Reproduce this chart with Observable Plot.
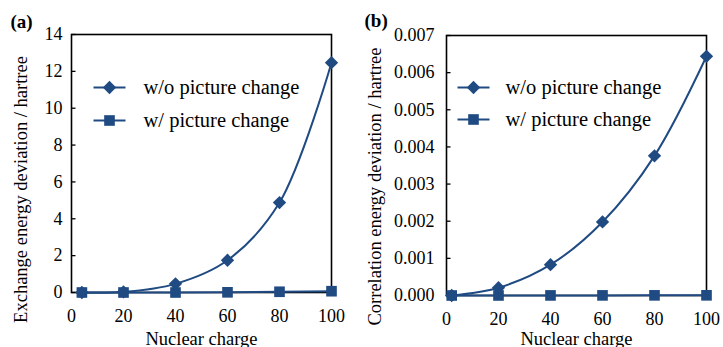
<!DOCTYPE html>
<html lang="en">
<head>
<meta charset="utf-8">
<script src="https://cdn.jsdelivr.net/npm/d3@7"></script>
<script src="https://cdn.jsdelivr.net/npm/@observablehq/plot@0.6"></script>
<style>
  html, body { margin: 0; padding: 0; background: #fff; }
  #wrap { display: flex; width: 723px; height: 347px; overflow: hidden; }
  svg { overflow: visible; }
</style>
</head>
<body>
<div id="wrap"></div>
<script>
// ---- data ----
const seriesNames = ["w/o picture change", "w/ picture change"];
const panelLabels = ["(a)", "(b)"];
const xLabel = "Nuclear charge";
const yLabelA = "Exchange energy deviation / hartree";
const yLabelB = "Correlation energy deviation / hartree";

const zA = [4, 20, 40, 60, 80, 100];
const exchWithout = [0.0, 0.03, 0.47, 1.75, 4.88, 12.47];
const exchWith = [0.0, 0.0, 0.0, 0.01, 0.04, 0.07];

const zB = [2, 20, 40, 60, 80, 100];
const corrWithout = [0.0, 0.00021, 0.00083, 0.00198, 0.00376, 0.00644];
const corrWith = [0.0, 0.000001, 0.000002, 0.000003, 0.000004, 0.000005];

const xTicks = [0, 20, 40, 60, 80, 100];
const yTicksA = [0, 2, 4, 6, 8, 10, 12, 14];
const yTicksB = [0, 0.001, 0.002, 0.003, 0.004, 0.005, 0.006, 0.007];

// ---- style ----
const blue = "#1f4a82";
const font = "'Liberation Serif', 'Times New Roman', serif";
const legendLine = { draw(ctx) { ctx.moveTo(-16, 0); ctx.lineTo(16, 0); } };
const inTick = { draw(ctx) { ctx.moveTo(0, 0); ctx.lineTo(4, 0); } };

function rows(z, v) { return z.map((x, i) => ({x, y: v[i]})); }

function panel(cfg) {
  const dWo = rows(cfg.z, cfg.wo);
  const dW = rows(cfg.z, cfg.w);
  const T = { fill: "black" };
  return Plot.plot({
    width: cfg.width, height: 347,
    marginLeft: cfg.ml, marginRight: cfg.mr, marginTop: cfg.mt, marginBottom: cfg.mb,
    style: { fontFamily: font, fontSize: "18px", color: "black", background: "white" },
    x: { domain: [0, 100] },
    y: { domain: cfg.ydomain },
    marks: [
      Plot.axisX(xTicks, { tickSize: 0, tickPadding: 17, fontSize: 18, label: null }),
      Plot.axisY(cfg.yticks, { tickSize: 0, tickPadding: cfg.tp, fontSize: 18, label: null, tickFormat: cfg.fmt }),
      Plot.dot(cfg.yticks, { y: d => d, frameAnchor: "left", symbol: inTick, stroke: "black", strokeWidth: 1.3, r: 3 }),
      Plot.frame({ stroke: "black", strokeWidth: 1.6 }),
      Plot.line(dW, { x: "x", y: "y", stroke: blue, strokeWidth: 2 }),
      Plot.line(dWo, { x: "x", y: "y", stroke: blue, strokeWidth: 2, curve: "catmull-rom" }),
      Plot.dot(dW, { x: "x", y: "y", symbol: "square", r: 6, fill: blue, stroke: "none" }),
      Plot.dot(dWo, { x: "x", y: "y", symbol: "diamond2", r: 6, fill: blue, stroke: "none" }),
      // legend
      Plot.dot([seriesNames[0]], { frameAnchor: "top-left", dx: cfg.lx, dy: cfg.ly1, symbol: legendLine, stroke: blue, strokeWidth: 2, fill: "none" }),
      Plot.dot([seriesNames[0]], { frameAnchor: "top-left", dx: cfg.lx, dy: cfg.ly1, symbol: "diamond2", r: 6, fill: blue }),
      Plot.text([seriesNames[0]], { ...T, frameAnchor: "top-left", dx: cfg.tx, dy: cfg.ly1, text: d => d, textAnchor: "start", lineAnchor: "middle", fontSize: 20.5 }),
      Plot.dot([seriesNames[1]], { frameAnchor: "top-left", dx: cfg.lx, dy: cfg.ly2, symbol: legendLine, stroke: blue, strokeWidth: 2, fill: "none" }),
      Plot.dot([seriesNames[1]], { frameAnchor: "top-left", dx: cfg.lx, dy: cfg.ly2, symbol: "square", r: 6, fill: blue }),
      Plot.text([seriesNames[1]], { ...T, frameAnchor: "top-left", dx: cfg.tx, dy: cfg.ly2, text: d => d, textAnchor: "start", lineAnchor: "middle", fontSize: 20.5 }),
      // axis titles
      Plot.text([cfg.ylabel], { ...T, frameAnchor: "left", text: d => d, rotate: -90, dx: cfg.ylx, dy: cfg.yly, textAnchor: "middle", lineAnchor: "middle", fontSize: 18.5 }),
      Plot.text([xLabel], { ...T, frameAnchor: "bottom", text: d => d, dy: cfg.xly, textAnchor: "middle", lineAnchor: "bottom", fontSize: 18.5 }),
      // panel label
      Plot.text([cfg.plabel], { ...T, frameAnchor: "top-left", text: d => d, dx: cfg.px, dy: cfg.py, textAnchor: "start", lineAnchor: "bottom", fontSize: 19, fontWeight: "bold" })
    ]
  });
}

const wrap = document.getElementById("wrap");
wrap.appendChild(panel({
  width: 362, ml: 71, mr: 31, mt: 34, mb: 55,
  z: zA, wo: exchWithout, w: exchWith, ydomain: [0, 14], yticks: yTicksA, tp: 9, fmt: d3.format("d"),
  lx: 38, ly1: 53, ly2: 86, tx: 72,
  ylabel: yLabelA, ylx: -50, yly: 26, xly: 52,
  plabel: panelLabels[0], px: -61, py: -7
}));
wrap.appendChild(panel({
  width: 361, ml: 84, mr: 17, mt: 35, mb: 52,
  z: zB, wo: corrWithout, w: corrWith, ydomain: [0, 0.007], yticks: yTicksB, tp: 12, fmt: d3.format(".3f"),
  lx: 27, ly1: 52, ly2: 84, tx: 59,
  ylabel: yLabelB, ylx: -71, yly: 21, xly: 49,
  plabel: panelLabels[1], px: -82, py: -9
}));

// rebuild every text node fresh, with its font given as inline style
const NS = "http://www.w3.org/2000/svg";
Array.from(wrap.querySelectorAll("text")).forEach(t => {
  const cs = getComputedStyle(t);
  const fs = parseFloat(cs.fontSize) || 18;
  const n = document.createElementNS(NS, "text");
  for (const a of Array.from(t.attributes)) {
    if (!/^font/.test(a.name)) n.setAttribute(a.name, a.value);
  }
  n.setAttribute("style",
    "font-family:'Liberation Serif';font-size:" + fs + "px;font-weight:" + cs.fontWeight +
    ";font-style:normal;font-variant:normal;text-anchor:" + cs.textAnchor + ";fill:black");
  n.textContent = t.textContent;
  t.parentNode.replaceChild(n, t);
});
wrap.querySelectorAll("g").forEach(g => {
  g.removeAttribute("font-variant");
  g.removeAttribute("font-family");
});
</script>
</body>
</html>
